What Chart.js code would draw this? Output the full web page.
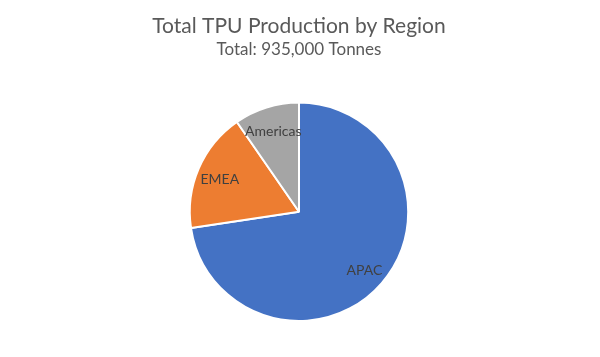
<!DOCTYPE html>
<html>
<head>
<meta charset="utf-8">
<script src="https://cdn.jsdelivr.net/npm/chart.js@4/dist/chart.umd.min.js"></script>
<style>
html,body{margin:0;padding:0;background:#fff;}
#wrap{width:600px;height:357px;position:relative;}
</style>
</head>
<body>
<div id="wrap"><canvas id="c" width="600" height="357"></canvas></div>
<script>
const categories = ["APAC", "EMEA", "Americas"];
const values = [679000, 166000, 90000];
const colors = ["#4472C4", "#ED7D31", "#A5A5A5"];
const titleText = "Total TPU Production by Region";
const subtitleText = "Total: 935,000 Tonnes";

const FONT = "Lato, 'Open Sans', sans-serif";

const sliceLabels = {
  id: 'sliceLabels',
  afterDatasetsDraw(chart) {
    const ctx = chart.ctx;
    const meta = chart.getDatasetMeta(0);
    ctx.save();
    ctx.font = "14px " + FONT;
    ctx.fillStyle = "#404040";
    ctx.textAlign = "center";
    ctx.textBaseline = "middle";
    meta.data.forEach((arc, i) => {
      const p = arc.getProps(['x','y','startAngle','endAngle','outerRadius'], true);
      const mid = (p.startAngle + p.endAngle) / 2;
      const r = p.outerRadius * 0.79;
      ctx.fillText(chart.data.labels[i], p.x + Math.cos(mid) * r, p.y + Math.sin(mid) * r + 2);
    });
    ctx.restore();
  }
};

new Chart(document.getElementById('c'), {
  type: 'pie',
  data: {
    labels: categories,
    datasets: [{
      data: values,
      backgroundColor: colors,
      borderColor: "#ffffff",
      borderWidth: 2
    }]
  },
  options: {
    responsive: false,
    animation: false,
    layout: { padding: { top: 0, bottom: 35, left: 0, right: 2 } },
    plugins: {
      legend: { display: false },
      tooltip: { enabled: false },
      title: {
        display: true,
        text: titleText,
        color: "#595959",
        font: { family: FONT, size: 21, weight: 'normal' },
        padding: { top: 14, bottom: 0 }
      },
      subtitle: {
        display: true,
        text: subtitleText,
        color: "#595959",
        font: { family: FONT, size: 17, weight: 'normal' },
        padding: { top: 0, bottom: 42 }
      }
    }
  },
  plugins: [sliceLabels]
});
</script>
</body>
</html>
